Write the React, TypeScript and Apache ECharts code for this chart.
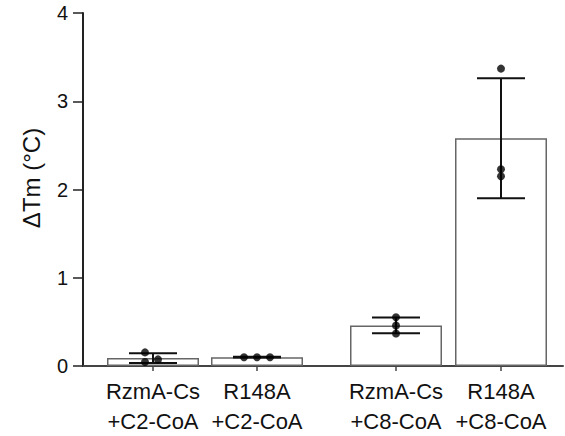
import React, { useEffect, useRef } from "react";
import * as echarts from "echarts";

// ---- data ----
const categories: string[] = [
  "RzmA-Cs\n+C2-CoA",
  "R148A\n+C2-CoA",
  "RzmA-Cs\n+C8-CoA",
  "R148A\n+C8-CoA",
];
const means: number[] = [0.09, 0.1, 0.46, 2.58];
const sds: number[] = [0.055, 0.004, 0.09, 0.68];
const replicates: number[][] = [
  [0.154, 0.075, 0.045],
  [0.1, 0.1, 0.1],
  [0.552, 0.459, 0.368],
  [3.37, 2.23, 2.15],
];
const yTicks: number[] = [0, 1, 2, 3, 4];

// ---- layout (not data) ----
const X_POS = [0.7, 1.74, 3.13, 4.18];
const X_MAX = 4.8;
const JITTER_PX: number[][] = [
  [-8, 5, -8],
  [-13, 0, 13],
  [0, 0, 0],
  [0, 0, 0],
];
const FONT = '"Liberation Sans", Arial, Helvetica, sans-serif';

export default function App() {
  const ref = useRef<HTMLDivElement>(null);
  useEffect(() => {
    if (!ref.current) return;
    const chart = echarts.init(ref.current, undefined, { renderer: "svg" });

    const barData = means.map((m, i) => [X_POS[i], m]);
    const errData = means.map((m, i) => [X_POS[i], m - sds[i], m + sds[i]]);
    const dotData: any[] = [];
    replicates.forEach((pts, i) =>
      pts.forEach((v, j) =>
        dotData.push({ value: [X_POS[i], v], symbolOffset: [JITTER_PX[i][j], 0] })
      )
    );

    const labelFor = (val: number) => {
      let best = 0;
      let bd = Infinity;
      X_POS.forEach((p, i) => {
        const d = Math.abs(p - val);
        if (d < bd) {
          bd = d;
          best = i;
        }
      });
      return bd < 0.01 ? categories[best] : "";
    };

    chart.setOption({
      animation: false,
      backgroundColor: "#fff",
      grid: { left: 83, right: 2, top: 13, bottom: 68 },
      xAxis: {
        type: "value",
        min: 0,
        max: X_MAX,
        splitLine: { show: false },
        axisLine: { show: true, lineStyle: { color: "#444", width: 2 } },
        axisTick: {
          show: true,
          customValues: X_POS,
          length: 5,
          lineStyle: { color: "#444", width: 1.5 },
        },
        axisLabel: {
          customValues: X_POS,
          formatter: (v: number) => labelFor(v),
          fontFamily: FONT,
          fontSize: 22,
          lineHeight: 30,
          color: "#111",
          margin: 10,
        },
      },
      yAxis: {
        type: "value",
        min: 0,
        max: 4,
        interval: 1,
        splitLine: { show: false },
        axisLine: { show: true, lineStyle: { color: "#222", width: 2 } },
        axisTick: { show: true, length: 10, lineStyle: { color: "#222", width: 1.5 } },
        axisLabel: {
          fontFamily: FONT,
          fontSize: 20,
          color: "#111",
          margin: 15,
          formatter: (v: number) => (yTicks.includes(v) ? String(v) : ""),
        },
      },
      graphic: [
        {
          type: "text",
          x: 31,
          y: 178,
          rotation: Math.PI / 2,
          style: {
            text: "ΔTm (°C)",
            fontFamily: FONT,
            fontSize: 24,
            fill: "#111",
            textAlign: "center",
            textVerticalAlign: "middle",
          },
        },
      ],
      series: [
        {
          type: "bar",
          data: barData,
          barWidth: 92,
          itemStyle: { color: "#fff", borderColor: "#666", borderWidth: 1.5 },
          z: 1,
        },
        {
          type: "custom",
          data: errData,
          z: 3,
          renderItem: (params: any, api: any) => {
            const x = api.value(0);
            const lo = api.coord([x, api.value(1)]);
            const hi = api.coord([x, api.value(2)]);
            const hw = 24;
            const st = { stroke: "#111", lineWidth: 2 };
            return {
              type: "group",
              children: [
                { type: "line", shape: { x1: lo[0], y1: lo[1], x2: hi[0], y2: hi[1] }, style: st },
                { type: "line", shape: { x1: hi[0] - hw, y1: hi[1], x2: hi[0] + hw, y2: hi[1] }, style: st },
                { type: "line", shape: { x1: lo[0] - hw, y1: lo[1], x2: lo[0] + hw, y2: lo[1] }, style: st },
              ],
            };
          },
        },
        {
          type: "scatter",
          data: dotData,
          symbol: "circle",
          symbolSize: 8,
          itemStyle: { color: "#000" },
          z: 4,
        },
      ],
    });
    return () => chart.dispose();
  }, []);

  return (
    <div
      ref={ref}
      style={{ position: "fixed", left: 0, top: 0, width: 565, height: 436 }}
    />
  );
}
